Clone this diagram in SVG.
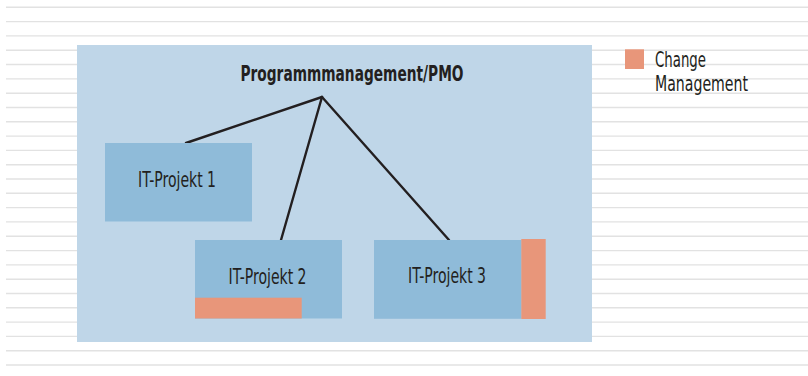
<svg xmlns="http://www.w3.org/2000/svg" width="808" height="376" viewBox="0 0 808 376">
  <defs>
    <style>
      .rule { stroke: #e2e2e2; stroke-width: 1.4; }
      .frame { fill: #bfd6e8; }
      .proj { fill: #8fbbd9; }
      .cm { fill: #e8967a; }
      .link { stroke: #231f20; stroke-width: 2.4; fill: none; stroke-linecap: round; }
      .lbl { font-family: "Liberation Sans Narrow", "DejaVu Sans Condensed", "Liberation Sans", sans-serif; font-size: 20.5px; fill: #231f20; }
      .title { font-weight: bold; }
    </style>
  </defs>

  <rect x="0" y="0" width="808" height="376" fill="#ffffff"/>

  <!-- ruled background -->
  <g id="ruling">
    <line class="rule" x1="6" y1="7.3" x2="808" y2="7.3"/>
    <line class="rule" x1="6" y1="21.6" x2="808" y2="21.6"/>
    <line class="rule" x1="6" y1="35.9" x2="808" y2="35.9"/>
    <line class="rule" x1="6" y1="50.2" x2="808" y2="50.2"/>
    <line class="rule" x1="6" y1="64.5" x2="808" y2="64.5"/>
    <line class="rule" x1="6" y1="78.9" x2="808" y2="78.9"/>
    <line class="rule" x1="6" y1="93.2" x2="808" y2="93.2"/>
    <line class="rule" x1="6" y1="107.5" x2="808" y2="107.5"/>
    <line class="rule" x1="6" y1="121.8" x2="808" y2="121.8"/>
    <line class="rule" x1="6" y1="136.1" x2="808" y2="136.1"/>
    <line class="rule" x1="6" y1="150.4" x2="808" y2="150.4"/>
    <line class="rule" x1="6" y1="164.7" x2="808" y2="164.7"/>
    <line class="rule" x1="6" y1="179.0" x2="808" y2="179.0"/>
    <line class="rule" x1="6" y1="193.3" x2="808" y2="193.3"/>
    <line class="rule" x1="6" y1="207.6" x2="808" y2="207.6"/>
    <line class="rule" x1="6" y1="221.9" x2="808" y2="221.9"/>
    <line class="rule" x1="6" y1="236.3" x2="808" y2="236.3"/>
    <line class="rule" x1="6" y1="250.6" x2="808" y2="250.6"/>
    <line class="rule" x1="6" y1="264.9" x2="808" y2="264.9"/>
    <line class="rule" x1="6" y1="279.2" x2="808" y2="279.2"/>
    <line class="rule" x1="6" y1="293.5" x2="808" y2="293.5"/>
    <line class="rule" x1="6" y1="307.8" x2="808" y2="307.8"/>
    <line class="rule" x1="6" y1="322.1" x2="808" y2="322.1"/>
    <line class="rule" x1="6" y1="336.4" x2="808" y2="336.4"/>
    <line class="rule" x1="6" y1="350.7" x2="808" y2="350.7"/>
    <line class="rule" x1="6" y1="365.0" x2="808" y2="365.0"/>
  </g>

  <!-- programme frame -->
  <g id="programm">
    <rect class="frame" x="77" y="45" width="515" height="297"/>
    <text class="lbl title" x="352" y="81" text-anchor="middle" textLength="223" lengthAdjust="spacingAndGlyphs">Programmmanagement/PMO</text>
  </g>

  <!-- connectors -->
  <g id="connectors">
    <line class="link" x1="322" y1="97" x2="186" y2="143"/>
    <line class="link" x1="322" y1="97" x2="281" y2="240"/>
    <line class="link" x1="322" y1="97" x2="449" y2="240"/>
  </g>

  <g id="projekt1">
    <rect class="proj" x="105" y="143" width="147" height="78.5"/>
    <text class="lbl" x="177" y="187" text-anchor="middle" textLength="78" lengthAdjust="spacingAndGlyphs">IT-Projekt 1</text>
  </g>

  <g id="projekt2">
    <rect class="proj" x="195" y="240" width="147" height="78.5"/>
    <rect class="cm" x="195" y="297.7" width="106.7" height="20.8"/>
    <text class="lbl" x="267.5" y="283.5" text-anchor="middle" textLength="78" lengthAdjust="spacingAndGlyphs">IT-Projekt 2</text>
  </g>

  <g id="projekt3">
    <rect class="proj" x="374" y="240" width="147.5" height="78.8"/>
    <rect class="cm" x="521.3" y="239" width="24.4" height="80"/>
    <text class="lbl" x="447" y="283" text-anchor="middle" textLength="78" lengthAdjust="spacingAndGlyphs">IT-Projekt 3</text>
  </g>

  <!-- legend -->
  <g id="legende">
    <rect class="cm" x="625" y="49.3" width="19" height="19.7"/>
    <text class="lbl" x="655" y="67" textLength="51" lengthAdjust="spacingAndGlyphs">Change</text>
    <text class="lbl" x="655" y="90.5" textLength="93" lengthAdjust="spacingAndGlyphs">Management</text>
  </g>
</svg>
